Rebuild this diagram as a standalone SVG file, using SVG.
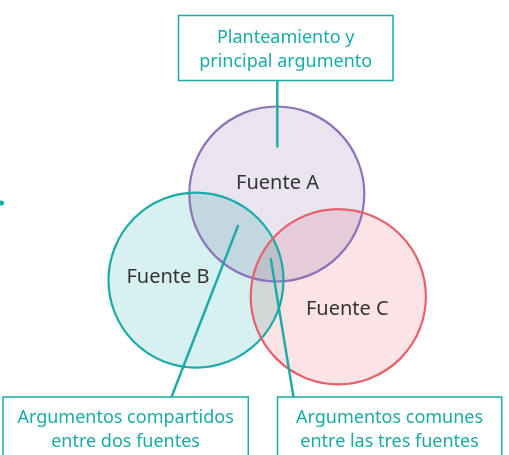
<svg xmlns="http://www.w3.org/2000/svg" width="509" height="455" viewBox="0 0 509 455">
<style>
.fill{mix-blend-mode:multiply}
.ring{fill:none;stroke-width:2.2}
.lbl{font-family:"Noto Sans",sans-serif;font-size:20px;fill:#333;text-anchor:middle}
.note{font-family:"Noto Sans",sans-serif;font-size:18px;fill:#1aaba6;text-anchor:middle}
.box{fill:#fff;stroke:#1aaba6;stroke-width:1.5}
.con{stroke:#1aaba6;stroke-width:2.4;fill:none}
</style>
<rect width="509" height="455" fill="#fff"/>
<g id="fuente-a">
<circle class="fill" cx="276.8" cy="194" r="87.5" fill="#e9e4f0"/>
</g>
<g id="fuente-b">
<circle class="fill" cx="196" cy="280.2" r="87.5" fill="#d6f1f0"/>
</g>
<g id="fuente-c">
<circle class="fill" cx="338.3" cy="296.7" r="87.6" fill="#fce4e6"/>
</g>
<g id="rings">
<circle class="ring" cx="276.8" cy="194" r="87.5" stroke="#8c74b8"/>
<circle class="ring" cx="196" cy="280.2" r="87.5" stroke="#1aaba6"/>
<circle class="ring" cx="338.3" cy="296.7" r="87.6" stroke="#e8606b"/>
</g>
<g id="labels">
<text class="lbl" x="277.5" y="188.5">Fuente A</text>
<text class="lbl" x="168" y="282.5">Fuente B</text>
<text class="lbl" x="347.3" y="315">Fuente C</text>
</g>
<g id="connectors">
<line class="con" x1="277.3" y1="81" x2="277.3" y2="147.5"/>
<line class="con" x1="238.3" y1="225" x2="171.5" y2="397"/>
<line class="con" x1="270.7" y1="258.3" x2="293.5" y2="397"/>
</g>
<g id="note-top">
<rect class="box" x="178.5" y="15.5" width="214.5" height="65"/>
<text class="note" x="285.7" y="42.5">Planteamiento y</text>
<text class="note" x="285.7" y="66.5">principal argumento</text>
</g>
<g id="note-left">
<rect class="box" x="3" y="397" width="245.3" height="70"/>
<text class="note" x="125.6" y="422.5">Argumentos compartidos</text>
<text class="note" x="125.6" y="447">entre dos fuentes</text>
</g>
<g id="note-right">
<rect class="box" x="277.5" y="397" width="224.2" height="70"/>
<text class="note" x="389.6" y="422.5">Argumentos comunes</text>
<text class="note" x="389.6" y="447">entre las tres fuentes</text>
</g>
<circle cx="1.5" cy="203" r="2.5" fill="#1aaba6"/>
</svg>
